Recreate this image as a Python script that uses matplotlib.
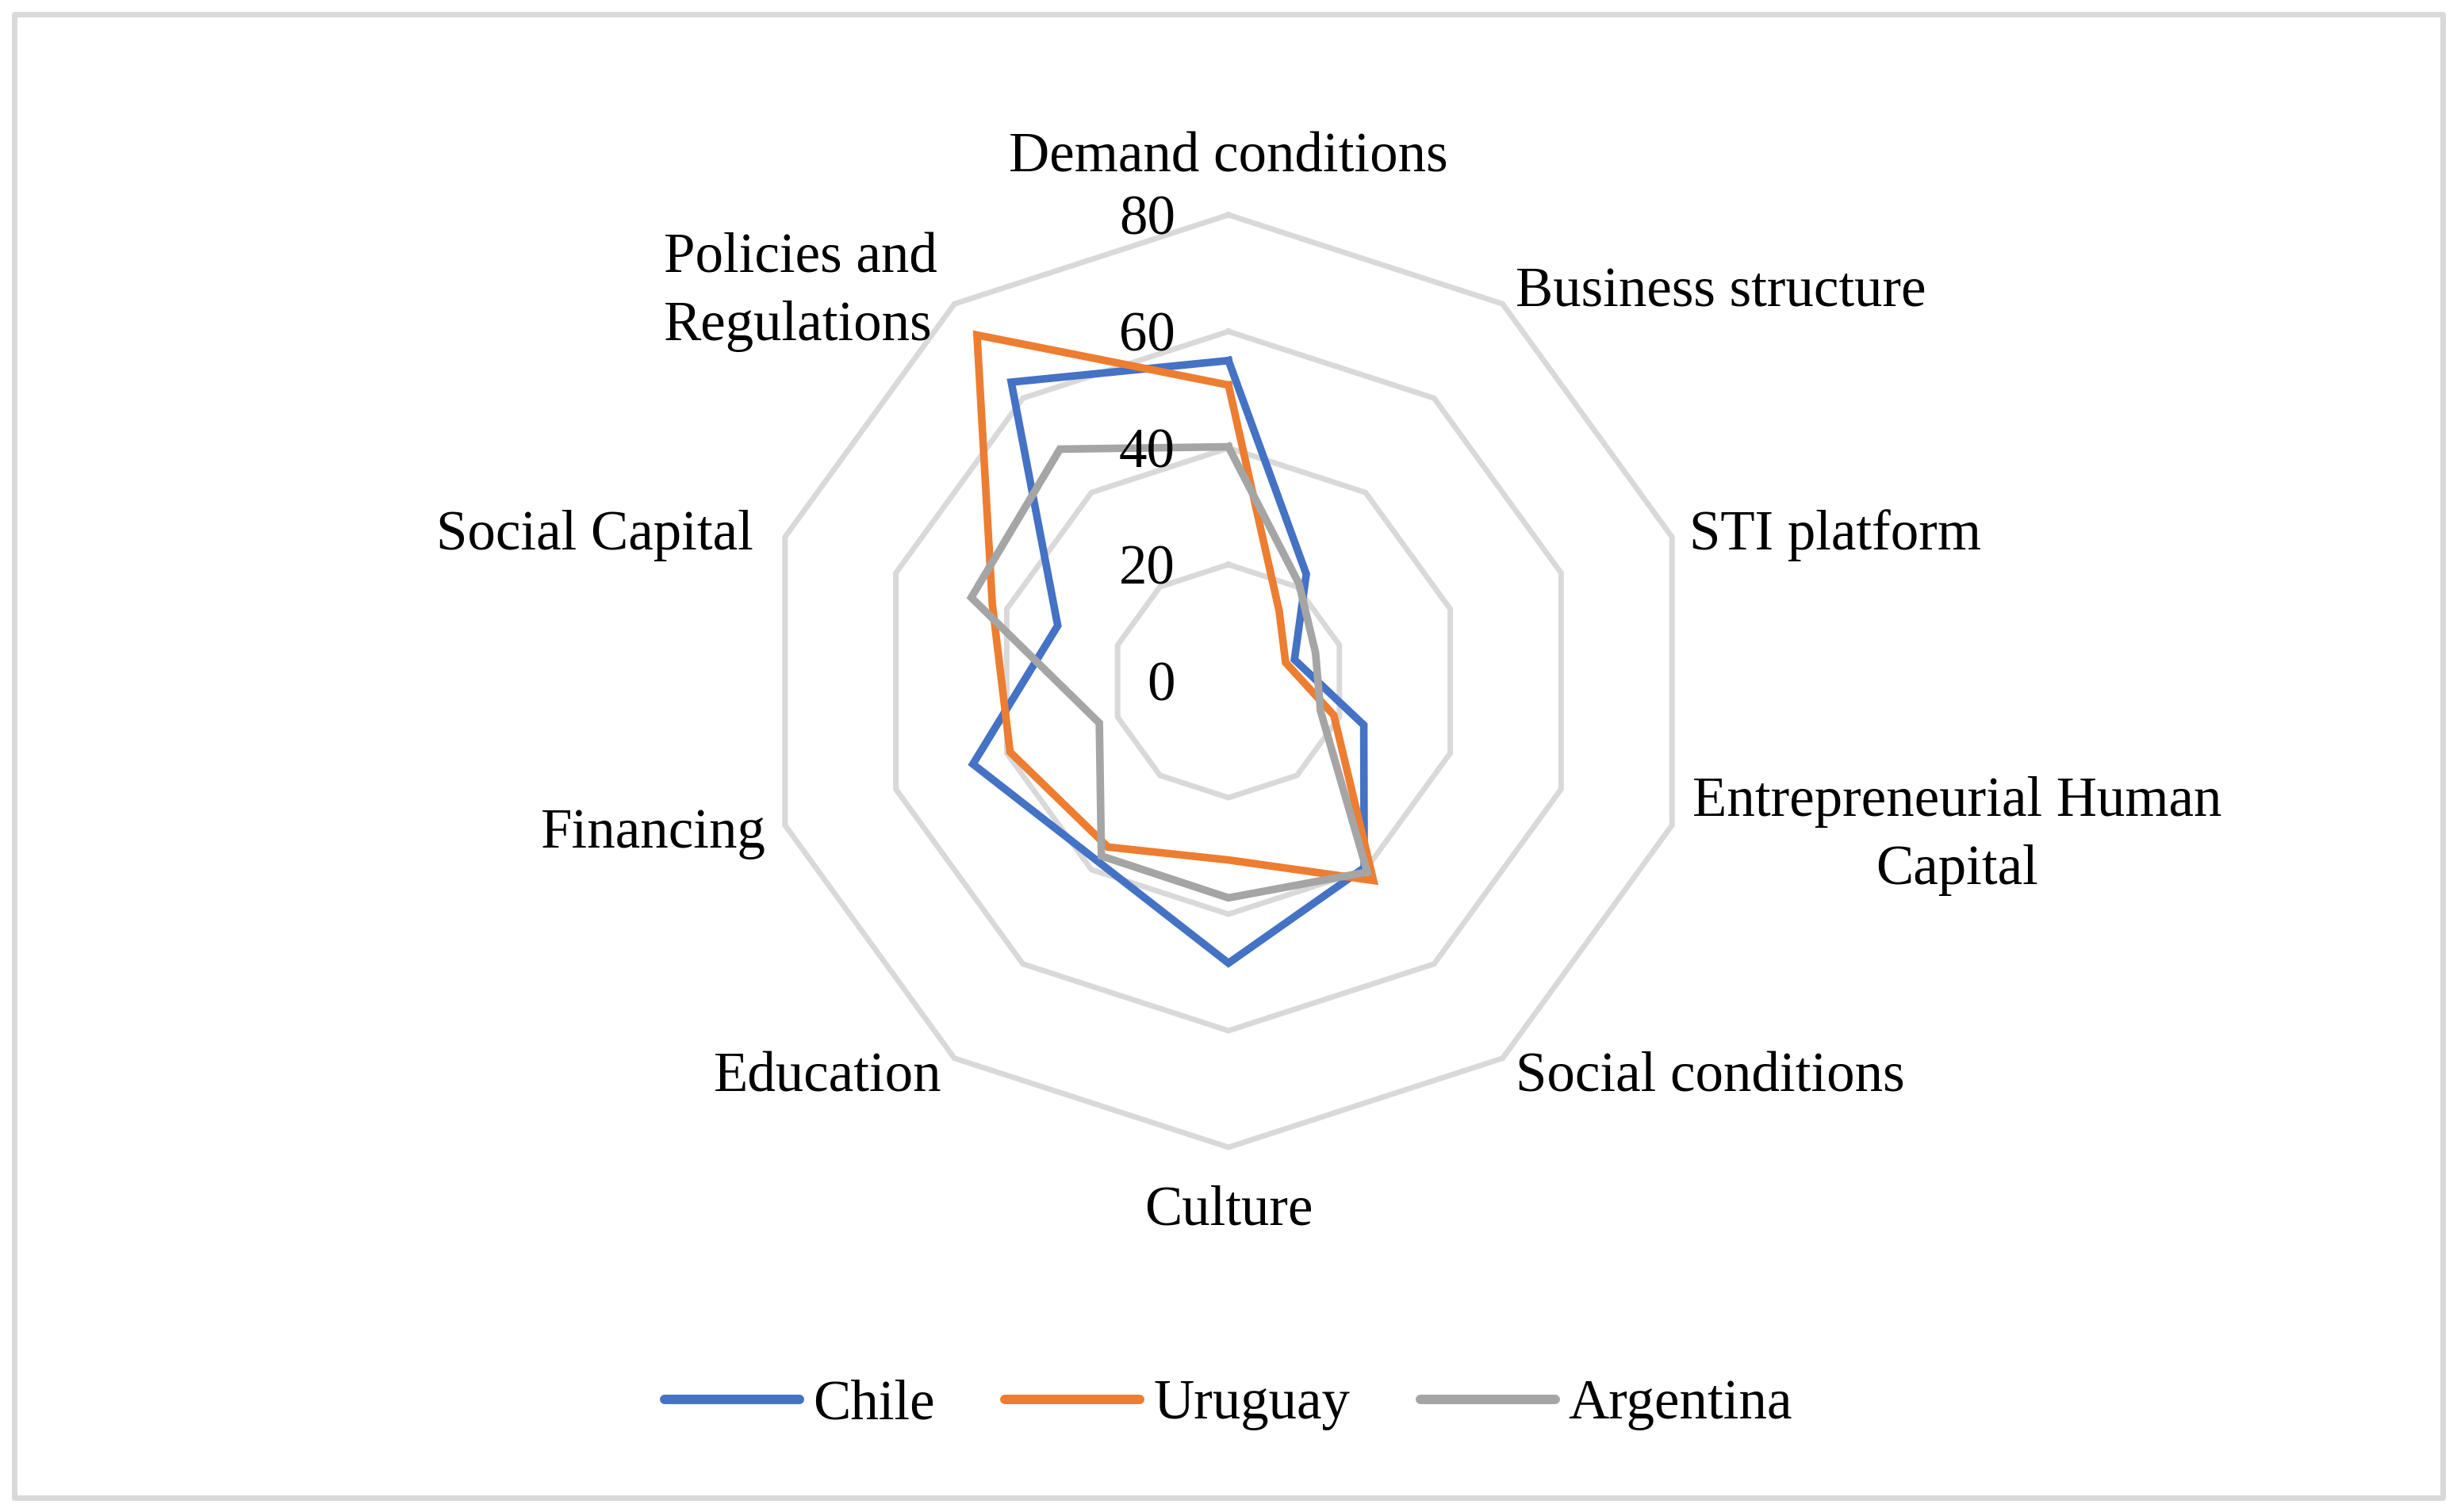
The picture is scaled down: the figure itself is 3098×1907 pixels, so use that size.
import numpy as np
import matplotlib.pyplot as plt
from matplotlib.patches import Rectangle

CATEGORIES = ['Demand conditions', 'Business structure', 'STI platform',
              'Entrepreneurial Human\nCapital', 'Social conditions', 'Culture',
              'Education', 'Financing', 'Social Capital', 'Policies and\nRegulations']
SERIES = ['Chile', 'Uruguay', 'Argentina']
CHILE = [55.0, 22.7, 11.9, 24.4, 39.6, 48.4, 38.2, 46.1, 30.8, 63.4]
URUGUAY = [50.8, 14.8, 10.3, 19.0, 42.3, 30.7, 35.2, 39.4, 42.6, 73.4]
ARGENTINA = [40.2, 20.6, 15.7, 16.6, 40.5, 37.2, 37.1, 23.3, 46.4, 49.2]
TICKS = [0, 20, 40, 60, 80]

COLORS = ['#4472C4', '#ED7D31', '#A5A5A5']
GRID = '#D9D9D9'

# canvas in pixels, centre of the radar and pixels per value unit
W, H, DPI = 3098, 1907, 200
CX, CY = 1549, 859
PPU = 7.35
FS = 25.5
TXT_DY = 7  # glyphs sit a little low in the original

# label anchors in pixels from the top-left corner (x, y, ha)
LABEL_POS = [
    (1549, 192, 'center'),
    (1911, 362, 'left'),
    (2130, 668, 'left'),
    (2134, 1048, 'left'),
    (1911, 1352, 'left'),
    (1549, 1520, 'center'),
    (1188, 1352, 'right'),
    (966, 1045, 'right'),
    (950, 668, 'right'),
    (1182, 362, 'right'),
]

plt.rcParams['font.family'] = ['Liberation Serif', 'DejaVu Serif']


def to_xy(values):
    n = len(values)
    theta = 2 * np.pi * np.arange(n) / n
    r = np.asarray(values, dtype=float)
    x = r * np.sin(theta)
    y = r * np.cos(theta)
    return np.append(x, x[0]), np.append(y, y[0])


def px(xp, yp):
    return (xp - CX) / PPU, (CY - yp - TXT_DY) / PPU


fig = plt.figure(figsize=(W / DPI, H / DPI), dpi=DPI)
ax = fig.add_axes([0, 0, 1, 1])
ax.set_xlim(-CX / PPU, (W - CX) / PPU)
ax.set_ylim(-(H - CY) / PPU, CY / PPU)
ax.axis('off')

n = len(CATEGORIES)
for t in TICKS[1:]:
    gx, gy = to_xy([t] * n)
    ax.plot(gx, gy, color=GRID, lw=2.5, solid_joinstyle='miter', zorder=1)
for t in TICKS:
    ax.text(-67 / PPU, t - TXT_DY / PPU, str(t), ha='right', va='center',
            fontsize=FS, zorder=5)

for name, vals, col in zip(SERIES, [CHILE, URUGUAY, ARGENTINA], COLORS):
    sx, sy = to_xy(vals)
    ax.plot(sx, sy, color=col, lw=3.45, solid_joinstyle='miter', label=name, zorder=3)

for label, (xp, yp, ha) in zip(CATEGORIES, LABEL_POS):
    x, y = px(xp, yp)
    ma = 'center' if '\n' in label and ha == 'left' else 'left'
    ax.text(x, y, label, ha=ha, va='center', fontsize=FS, multialignment=ma,
            linespacing=1.42)

leg = ax.legend(loc='center', bbox_to_anchor=(0.5, 1 - 1772 / H),
                bbox_transform=fig.transFigure, ncol=3, frameon=False,
                handlelength=2.4, handletextpad=0.24, columnspacing=1.25,
                fontsize=FS)
for line in leg.get_lines():
    line.set_linewidth(4.3)
    line.set_solid_capstyle('round')

fig.patches.append(Rectangle((18 / W, 18 / H), (W - 36) / W, (H - 36) / H,
                             transform=fig.transFigure, fill=False,
                             edgecolor=GRID, lw=2.5, joinstyle='round'))

fig.savefig('out.png', dpi=DPI)
